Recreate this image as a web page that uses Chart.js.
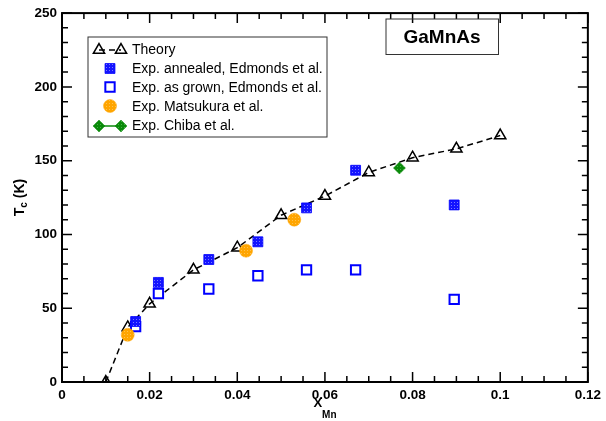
<!DOCTYPE html>
<html lang="en">
<head>
    <meta charset="UTF-8" />
    <title>GaMnAs Tc</title>
    <script src="https://cdn.jsdelivr.net/npm/chart.js"></script>
    <style>
        body { margin: 0; background: #fff; }
        #wrap { width: 606px; height: 421px; position: relative; }
    </style>
</head>
<body>
<div id="wrap"><canvas id="tcChart"></canvas></div>

<script>
    // data
    const theoryX = [0.01, 0.015, 0.02, 0.03, 0.04, 0.05, 0.06, 0.07, 0.08, 0.09, 0.1];
    const theoryTc = [0, 37, 53, 76, 91, 113, 126, 142, 152, 158, 167];

    const annealedX = [0.0168, 0.022, 0.0335, 0.0447, 0.0558, 0.067, 0.0895];
    const annealedTc = [41, 67.5, 83, 95, 118, 143.5, 120];

    const grownX = [0.0168, 0.022, 0.0335, 0.0447, 0.0558, 0.067, 0.0895];
    const grownTc = [37.5, 60, 63, 72, 76, 76, 56];

    const matsukuraX = [0.015, 0.042, 0.053];
    const matsukuraTc = [32, 89, 110];

    const chibaX = [0.077];
    const chibaTc = [145];

    const xTicks = [0, 0.02, 0.04, 0.06, 0.08, 0.1, 0.12];
    const yTicks = [0, 50, 100, 150, 200, 250];

    const legendLabels = ['Theory', 'Exp. annealed, Edmonds et al.', 'Exp. as grown, Edmonds et al.',
        'Exp. Matsukura et al.', 'Exp. Chiba et al.'];

    const FONT = '"Liberation Sans", Arial, sans-serif';

    function toPoints(xs, ys) {
        return xs.map((x, i) => ({ x: x, y: ys[i] }));
    }

    // dotted fill like the original symbols
    function dotPattern(base, dot) {
        const c = document.createElement('canvas');
        c.width = 3; c.height = 3;
        const g = c.getContext('2d');
        g.fillStyle = base;
        g.fillRect(0, 0, 3, 3);
        g.fillStyle = dot;
        g.fillRect(1, 1, 1, 1);
        return g.createPattern(c, 'repeat');
    }

    const blueFill = dotPattern('#1414ff', '#7a7aff');
    const orangeFill = dotPattern('#ffa500', '#ffc24d');
    const greenFill = dotPattern('#0a8a0a', '#45b045');

    const styles = {
        theory: { pointStyle: 'triangle', radius: 6.5, fill: 'rgba(0,0,0,0)', stroke: '#000', lw: 1.5 },
        annealed: { pointStyle: 'rect', radius: 7, fill: blueFill, stroke: '#0000ff', lw: 0.8 },
        grown: { pointStyle: 'rect', radius: 6.6, fill: '#fff', stroke: '#0000ff', lw: 2 },
        matsukura: { pointStyle: 'circle', radius: 6.5, fill: orangeFill, stroke: '#ffa500', lw: 0.5 },
        chiba: { pointStyle: 'rectRot', radius: 6, fill: greenFill, stroke: '#0a8a0a', lw: 0.5 }
    };

    function ds(label, xs, ys, st, extra) {
        return Object.assign({
            label: label,
            data: toPoints(xs, ys),
            showLine: false,
            pointStyle: st.pointStyle,
            pointRadius: st.radius,
            pointHoverRadius: st.radius,
            pointBackgroundColor: st.fill,
            pointBorderColor: st.stroke,
            pointBorderWidth: st.lw
        }, extra || {});
    }

    function drawMarker(ctx, st, x, y) {
        ctx.save();
        ctx.fillStyle = st.fill;
        ctx.strokeStyle = st.stroke;
        ctx.lineWidth = st.lw;
        Chart.helpers.drawPoint(ctx, { pointStyle: st.pointStyle, radius: st.radius, rotation: 0, borderWidth: st.lw }, x, y);
        ctx.restore();
    }

    // frame, inward ticks, axis titles, legend, label box
    const decorations = {
        id: 'decorations',
        afterDraw(chart) {
            const ctx = chart.ctx;
            const a = chart.chartArea;
            const xs = chart.scales.x, ys = chart.scales.y;
            ctx.save();
            ctx.strokeStyle = '#000';

            // ticks
            ctx.lineWidth = 1.5;
            ctx.beginPath();
            for (let i = 0; i <= 24; i++) {
                const px = xs.getPixelForValue(i * 0.005);
                const len = i % 4 === 0 ? 10 : 6;
                ctx.moveTo(px, a.bottom); ctx.lineTo(px, a.bottom - len);
                ctx.moveTo(px, a.top); ctx.lineTo(px, a.top + len);
            }
            for (let i = 0; i <= 25; i++) {
                const py = ys.getPixelForValue(i * 10);
                const len = i % 5 === 0 ? 10 : 6;
                ctx.moveTo(a.left, py); ctx.lineTo(a.left + len, py);
                ctx.moveTo(a.right, py); ctx.lineTo(a.right - len, py);
            }
            ctx.stroke();

            ctx.lineWidth = 2;
            ctx.strokeRect(a.left, a.top, a.right - a.left, a.bottom - a.top);

            // x axis title X_Mn
            ctx.fillStyle = '#000';
            ctx.textBaseline = 'alphabetic';
            ctx.textAlign = 'left';
            ctx.font = 'bold 13px ' + FONT;
            const wX = ctx.measureText('X').width;
            ctx.font = 'bold 10px ' + FONT;
            const wMn = ctx.measureText('Mn').width;
            let sx = (a.left + a.right) / 2 - (wX + wMn) / 2;
            ctx.font = 'bold 13px ' + FONT;
            ctx.fillText('X', sx, 407);
            ctx.font = 'bold 10px ' + FONT;
            ctx.fillText('Mn', sx + wX, 418);

            // y axis title T_c (K)
            ctx.save();
            ctx.translate(23.5, (a.top + a.bottom) / 2);
            ctx.rotate(-Math.PI / 2);
            ctx.font = 'bold 14px ' + FONT;
            const wT = ctx.measureText('T').width;
            const wK = ctx.measureText(' (K)').width;
            ctx.font = 'bold 10px ' + FONT;
            const wc = ctx.measureText('c').width;
            let ty = -(wT + wc + wK) / 2;
            ctx.font = 'bold 14px ' + FONT;
            ctx.fillText('T', ty, 0);
            ctx.font = 'bold 10px ' + FONT;
            ctx.fillText('c', ty + wT, 3);
            ctx.font = 'bold 14px ' + FONT;
            ctx.fillText(' (K)', ty + wT + wc, 0);
            ctx.restore();

            // legend
            ctx.lineWidth = 1;
            ctx.strokeStyle = '#333';
            ctx.strokeRect(88, 37, 239, 100);
            const rows = [49, 68.5, 87, 106, 125];
            const keys = ['theory', 'annealed', 'grown', 'matsukura', 'chiba'];
            ctx.font = '14px ' + FONT;
            ctx.textBaseline = 'middle';
            ctx.fillStyle = '#000';
            keys.forEach((k, i) => {
                const y = rows[i];
                if (k === 'theory' || k === 'chiba') {
                    ctx.save();
                    ctx.beginPath();
                    ctx.strokeStyle = k === 'theory' ? '#000' : '#0a8a0a';
                    ctx.lineWidth = 1.5;
                    if (k === 'theory') ctx.setLineDash([6, 4]);
                    ctx.moveTo(99, y + 1); ctx.lineTo(121, y + 1);
                    ctx.stroke();
                    ctx.restore();
                    drawMarker(ctx, styles[k], 99, y + 1);
                    drawMarker(ctx, styles[k], 121, y + 1);
                } else {
                    drawMarker(ctx, styles[k], 110, y);
                }
                ctx.fillStyle = '#000';
                ctx.fillText(legendLabels[i], 132, y + 1);
            });

            // GaMnAs box
            ctx.strokeStyle = '#333';
            ctx.lineWidth = 1;
            ctx.strokeRect(386, 19, 112.5, 35.5);
            ctx.font = 'bold 19px ' + FONT;
            ctx.textAlign = 'center';
            ctx.fillText('GaMnAs', 442, 37.5);
            ctx.restore();
        }
    };

    const ctx = document.getElementById('tcChart').getContext('2d');
    const tcChart = new Chart(ctx, {
        type: 'scatter',
        data: {
            datasets: [
                ds(legendLabels[4], chibaX, chibaTc, styles.chiba),
                ds(legendLabels[3], matsukuraX, matsukuraTc, styles.matsukura),
                ds(legendLabels[1], annealedX, annealedTc, styles.annealed),
                ds(legendLabels[2], grownX, grownTc, styles.grown),
                ds(legendLabels[0], theoryX, theoryTc, styles.theory, {
                    showLine: true,
                    borderColor: '#000',
                    borderWidth: 1.5,
                    borderDash: [6, 4],
                    tension: 0
                })
            ]
        },
        options: {
            responsive: true,
            maintainAspectRatio: false,
            animation: false,
            layout: { padding: { left: 0, top: 12, right: 15, bottom: 0 } },
            plugins: {
                legend: { display: false },
                tooltip: { enabled: false }
            },
            scales: {
                x: {
                    type: 'linear',
                    min: 0,
                    max: 0.12,
                    afterFit: s => { s.height = 39; },
                    afterBuildTicks: s => { s.ticks = xTicks.map(v => ({ value: v })); },
                    grid: { display: false, drawTicks: false },
                    border: { display: false },
                    ticks: {
                        padding: 5,
                        color: '#000',
                        font: { family: FONT, size: 13.5, weight: 'bold' },
                        maxRotation: 0,
                        callback: v => String(Number(v.toFixed(2)))
                    }
                },
                y: {
                    type: 'linear',
                    min: 0,
                    max: 250,
                    afterFit: s => { s.width = 62; },
                    afterBuildTicks: s => { s.ticks = yTicks.map(v => ({ value: v })); },
                    grid: { display: false, drawTicks: false },
                    border: { display: false },
                    ticks: {
                        padding: 5,
                        color: '#000',
                        font: { family: FONT, size: 13.5, weight: 'bold' },
                        callback: v => String(v)
                    }
                }
            }
        },
        plugins: [decorations]
    });
</script>
</body>
</html>
